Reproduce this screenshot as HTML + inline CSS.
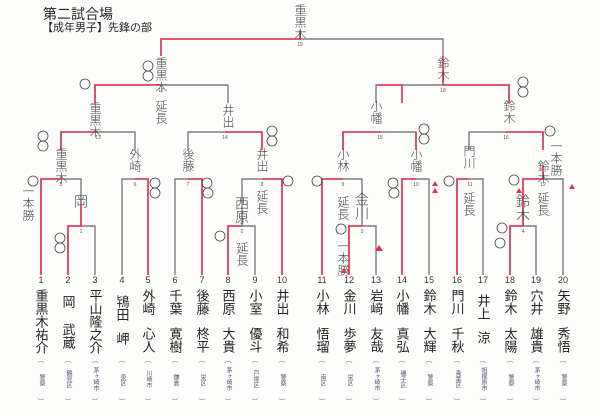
<!DOCTYPE html>
<html><head><meta charset="utf-8"><style>
body{margin:0;background:#fff;}
svg{display:block}
text{font-family:"Liberation Sans","Noto Sans CJK JP",sans-serif;}
.hw{font-family:"Noto Sans CJK JP",sans-serif;font-size:12px;fill:#444;writing-mode:tb;font-weight:300}
.nm{font-family:"Noto Sans CJK JP",sans-serif;font-size:13px;fill:#222;writing-mode:tb;}
.af{font-family:"Noto Sans CJK JP",sans-serif;font-size:6px;fill:#557;writing-mode:tb;}
.n{font-size:9px;fill:#333;text-anchor:middle}
.m{font-size:5px;fill:#555;text-anchor:middle}
.br{font-size:7px;fill:#777;text-anchor:middle}
</style></head><body>
<svg width="600" height="416" viewBox="0 0 600 416">
<rect width="600" height="416" fill="#fdfdfb"/>
<text x="43" y="19" font-size="14" fill="#222" font-family="Noto Sans CJK JP,sans-serif">第二試合場</text>
<text x="42" y="31" font-size="11" fill="#222" font-family="Noto Sans CJK JP,sans-serif">【成年男子】先鋒の部</text>
<g fill="none" stroke="#666" stroke-width="1.2">
<path d="M161 56V39H443V56M300 39V30"/>
<path d="M95 103V85H228V103M376 103V85H509V103"/>
<path d="M61 150V132H135V150M188 150V132H262V150M343 150V132H416V150M469 150V132H543V150"/>
<path d="M41 275V179H81V226M122 275V179H148V275M175 275V179H202V275M242 226V179H282V275M322 275V179H362V226M402 275V179H429V275M457 275V179H483V275M523 226V179H563V275"/>
<path d="M68 275V226H95V275M228 275V226H255V275M349 275V226H376V275M510 275V226H536V275"/>
</g>
<g fill="none" stroke="#e2304c" stroke-width="1.6">
<path d="M300 30V39H161V56M95 103V85H161"/>
<path d="M61 150V132H98M225 132H262V150"/>
<path d="M41 275V179H61M135 179H148V275M188 179H202V275M262 179H282V275"/>
<path d="M68 275V226H81V205M228 275V226H242"/>
<path d="M402 103V85H376M443 56V85H509V103"/>
<path d="M322 275V179H343M402 275V179H416M457 275V179H469M349 275V226H362M510 275V226H523M523 226V179H543V165"/>
<path d="M343 150V132H380M416 132V150M506 132H543V150"/>
</g>
<g class="m">
<text x="300" y="46">19</text><text x="161" y="92">17</text><text x="443" y="92">18</text>
<text x="98" y="139">13</text><text x="225" y="139">14</text><text x="380" y="139">15</text><text x="506" y="139">16</text>
<text x="61" y="186">5</text><text x="135" y="186">6</text><text x="188" y="186">7</text><text x="262" y="186">8</text>
<text x="343" y="186">9</text><text x="416" y="186">10</text><text x="470" y="186">11</text><text x="543" y="186">12</text>
<text x="81" y="233">1</text><text x="242" y="233">2</text><text x="362" y="233">3</text><text x="523" y="233">4</text>
</g>
<g class="n">
<text x="41" y="283">1</text><text x="68" y="283">2</text><text x="95" y="283">3</text><text x="122" y="283">4</text><text x="148" y="283">5</text><text x="175" y="283">6</text><text x="202" y="283">7</text><text x="228" y="283">8</text><text x="255" y="283">9</text><text x="282" y="283">10</text><text x="322" y="283">11</text><text x="349" y="283">12</text><text x="376" y="283">13</text><text x="402" y="283">14</text><text x="429" y="283">15</text><text x="457" y="283">16</text><text x="483" y="283">17</text><text x="510" y="283">18</text><text x="536" y="283">19</text><text x="563" y="283">20</text>
</g>
<g class="nm">
<text x="41" y="289">重黒木祐介</text><text x="68" y="295">岡</text><text x="68" y="323">武蔵</text><text x="95" y="289">平山隆之介</text><text x="122" y="295">鴇田</text><text x="122" y="332">岬</text>
<text x="148" y="289">外崎</text><text x="148" y="327">心人</text><text x="175" y="289">千葉</text><text x="175" y="327">寛樹</text><text x="202" y="289">後藤</text><text x="202" y="327">柊平</text><text x="228" y="289">西原</text><text x="228" y="327">大貴</text><text x="255" y="289">小室</text><text x="255" y="327">優斗</text><text x="282" y="289">井出</text><text x="282" y="327">和希</text>
<text x="322" y="289">小林</text><text x="322" y="327">悟瑠</text><text x="349" y="289">金川</text><text x="349" y="327">歩夢</text><text x="376" y="289">岩﨑</text><text x="376" y="327">友哉</text><text x="402" y="289">小幡</text><text x="402" y="327">真弘</text><text x="429" y="289">鈴木</text><text x="429" y="327">大輝</text><text x="457" y="289">門川</text><text x="457" y="327">千秋</text><text x="483" y="294">井上</text><text x="483" y="331">涼</text><text x="510" y="289">鈴木</text><text x="510" y="327">太陽</text><text x="536" y="289">穴井</text><text x="536" y="327">雄貴</text><text x="563" y="289">矢野</text><text x="563" y="327">秀悟</text>
</g>
<g class="br">
<text x="41" y="362">︵</text><text x="68" y="362">︵</text><text x="95" y="362">︵</text><text x="122" y="362">︵</text><text x="148" y="362">︵</text><text x="175" y="362">︵</text><text x="202" y="362">︵</text><text x="228" y="362">︵</text><text x="255" y="362">︵</text><text x="282" y="362">︵</text><text x="322" y="362">︵</text><text x="349" y="362">︵</text><text x="376" y="362">︵</text><text x="402" y="362">︵</text><text x="429" y="362">︵</text><text x="457" y="362">︵</text><text x="483" y="362">︵</text><text x="510" y="362">︵</text><text x="536" y="362">︵</text><text x="563" y="362">︵</text>
<text x="41" y="404">︶</text><text x="68" y="404">︶</text><text x="95" y="404">︶</text><text x="122" y="404">︶</text><text x="148" y="404">︶</text><text x="175" y="404">︶</text><text x="202" y="404">︶</text><text x="228" y="404">︶</text><text x="255" y="404">︶</text><text x="282" y="404">︶</text><text x="322" y="404">︶</text><text x="349" y="404">︶</text><text x="376" y="404">︶</text><text x="402" y="404">︶</text><text x="429" y="404">︶</text><text x="457" y="404">︶</text><text x="483" y="404">︶</text><text x="510" y="404">︶</text><text x="536" y="404">︶</text><text x="563" y="404">︶</text>
</g>
<g class="af">
<text x="41" y="374">警察</text><text x="68" y="370">鶴見区</text><text x="95" y="367">茅ヶ崎市</text><text x="122" y="374">泉区</text><text x="148" y="370">川崎市</text><text x="175" y="374">鎌倉</text><text x="202" y="374">栄区</text><text x="228" y="367">茅ヶ崎市</text><text x="255" y="370">戸塚区</text><text x="282" y="374">警察</text>
<text x="322" y="374">南区</text><text x="349" y="374">栄区</text><text x="376" y="367">茅ヶ崎市</text><text x="402" y="370">磯子区</text><text x="429" y="374">警察</text><text x="457" y="370">青葉区</text><text x="483" y="367">相模原市</text><text x="510" y="374">警察</text><text x="536" y="367">茅ヶ崎市</text><text x="563" y="374">警察</text>
</g>
<g class="hw">
<text x="300" y="4">重黒木</text><text x="161" y="57">重黒木</text><text x="443" y="57">鈴木</text>
<text x="161" y="100">延長</text><text x="95" y="102">重黒木</text><text x="228" y="104">井出</text>
<text x="376" y="100">小幡</text><text x="509" y="100">鈴木</text>
<text x="61" y="148">重黒木</text><text x="135" y="148">外崎</text><text x="188" y="148">後藤</text><text x="262" y="148">井出</text>
<text x="343" y="148">小林</text><text x="416" y="148">小幡</text><text x="469" y="145">門川</text><text x="543" y="160">鈴木</text><text x="556" y="140">一本勝</text>
<text x="28" y="185">一本勝</text><text x="81" y="194" style="font-size:14px">岡</text>
<text x="242" y="196" style="font-size:14px">西原</text><text x="262" y="190">延長</text><text x="242" y="242">延長</text>
<text x="343" y="196">延長</text><text x="362" y="192" style="font-size:14px">金川</text><text x="343" y="240">一本勝</text>
<text x="469" y="192">延長</text><text x="523" y="194" style="font-size:14px">鈴木</text><text x="543" y="192">延長</text>
</g>
<g fill="none" stroke="#444" stroke-width="0.8">
<circle cx="33" cy="181" r="5"/><circle cx="60" cy="238" r="5"/><circle cx="60" cy="248" r="5"/><circle cx="155" cy="183" r="5"/><circle cx="155" cy="193" r="5"/><circle cx="207" cy="183" r="5"/><circle cx="208" cy="193" r="5"/><circle cx="288" cy="181" r="5"/><circle cx="220" cy="236" r="5"/><circle cx="317" cy="181" r="5"/><circle cx="341" cy="229" r="5"/><circle cx="393" cy="183" r="5"/><circle cx="394" cy="193" r="5"/><circle cx="449" cy="181" r="5"/><circle cx="514" cy="180" r="5"/><circle cx="502" cy="228" r="5"/><circle cx="500" cy="243" r="5"/>
<circle cx="43" cy="136" r="5"/><circle cx="43" cy="146" r="5"/><circle cx="272" cy="131" r="5"/><circle cx="272" cy="141" r="5"/><circle cx="85" cy="84" r="5"/><circle cx="148" cy="66" r="5"/><circle cx="148" cy="76" r="5"/><circle cx="424" cy="129" r="5"/><circle cx="424" cy="139" r="5"/><circle cx="523" cy="82" r="5"/><circle cx="523" cy="92" r="5"/><circle cx="550" cy="131" r="5"/>
</g>
<g fill="#e2304c">
<path d="M432 186l3-5 3 5zM432 193l3-5 3 5zM375 251l4-6 4 6zM341 273l3-5 3 5zM569 189l3-5 3 5zM516 193l3-5 3 5z"/>
</g>
</svg>
</body></html>
